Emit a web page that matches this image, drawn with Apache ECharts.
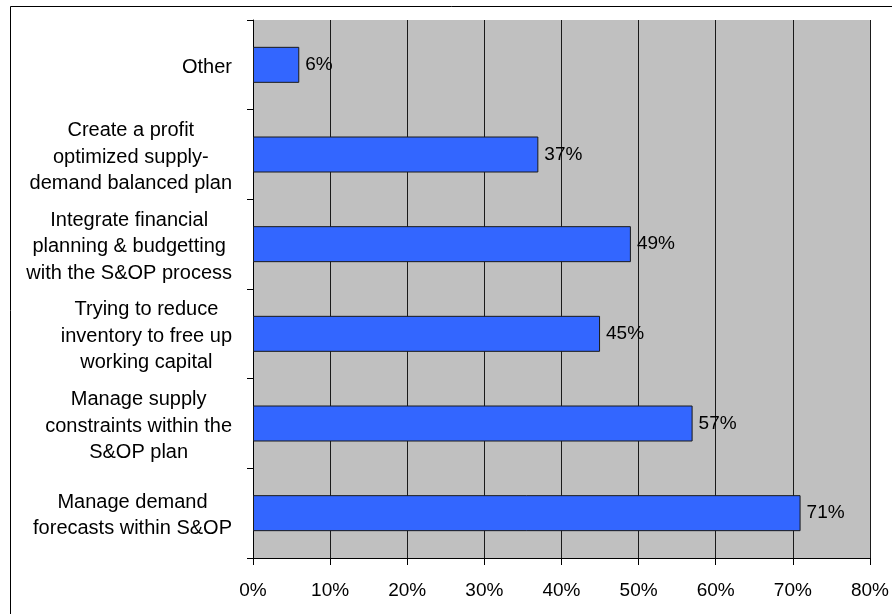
<!DOCTYPE html>
<html>
<head>
<meta charset="utf-8">
<style>
  html, body { margin: 0; padding: 0; background: #fff; }
  #chart { width: 892px; height: 614px; }
</style>
<script src="https://cdn.jsdelivr.net/npm/echarts@6/dist/echarts.min.js"></script>
</head>
<body>
<div id="chart"></div>
<script>
// Survey answers, listed top to bottom
const categories = [
  'Other',
  'Create a profit\noptimized supply-\ndemand balanced plan',
  'Integrate financial\nplanning & budgetting\nwith the S&OP process',
  'Trying to reduce\ninventory to free up\nworking capital',
  'Manage supply\nconstraints within the\nS&OP plan',
  'Manage demand\nforecasts within S&OP'
];
// Share of respondents, in percent
const shares = [6, 37, 49, 45, 57, 71];
// Percent axis
const axisMin = 0;
const axisMax = 80;
const axisStep = 10;

const FONT = '"Liberation Sans", Arial, sans-serif';
const chart = echarts.init(document.getElementById('chart'), null, { renderer: 'canvas' });

chart.setOption({
  backgroundColor: '#ffffff',
  animation: false,
  textStyle: { fontFamily: FONT },
  graphic: [{
    // outer chart frame
    type: 'rect',
    silent: true,
    shape: { x: 10.5, y: 6.5, width: 1000, height: 1000 },
    style: { fill: null, stroke: '#000', lineWidth: 1 }
  }],
  grid: {
    left: 253, top: 20, right: 20, bottom: 56,
    show: true, backgroundColor: '#C0C0C0', borderWidth: 0,
    containLabel: false
  },
  xAxis: {
    type: 'value',
    min: axisMin, max: axisMax, interval: axisStep,
    axisLine: { show: true, lineStyle: { color: '#000', width: 1 } },
    axisTick: { show: true, length: 7, lineStyle: { color: '#000' } },
    axisLabel: {
      formatter: '{value}%', color: '#000', fontSize: 19, fontFamily: FONT, margin: 23
    },
    splitLine: { show: true, lineStyle: { color: '#1a1a1a', width: 1 } }
  },
  yAxis: {
    type: 'category',
    data: categories,
    inverse: true,
    axisLine: { show: true, lineStyle: { color: '#000', width: 1 } },
    axisTick: { show: true, length: 6, lineStyle: { color: '#000' } },
    axisLabel: {
      align: 'right',
      margin: 21,
      color: '#000',
      padding: [5, 0, 0, 0],
      formatter: v => v.split('\n').map(l => '{c|' + l + '}').join('\n'),
      rich: {
        c: { align: 'center', fontSize: 20, lineHeight: 26.5, fontFamily: FONT, color: '#000' }
      }
    },
    splitLine: { show: false }
  },
  series: [{
    type: 'bar',
    data: shares,
    barWidth: 36,
    itemStyle: { color: '#3366FF', borderColor: '#1a1a1a', borderWidth: 1 },
    label: {
      show: true, position: 'right', distance: 6,
      formatter: '{c}%', color: '#000', fontSize: 19, fontFamily: FONT
    }
  }]
});
</script>
</body>
</html>
